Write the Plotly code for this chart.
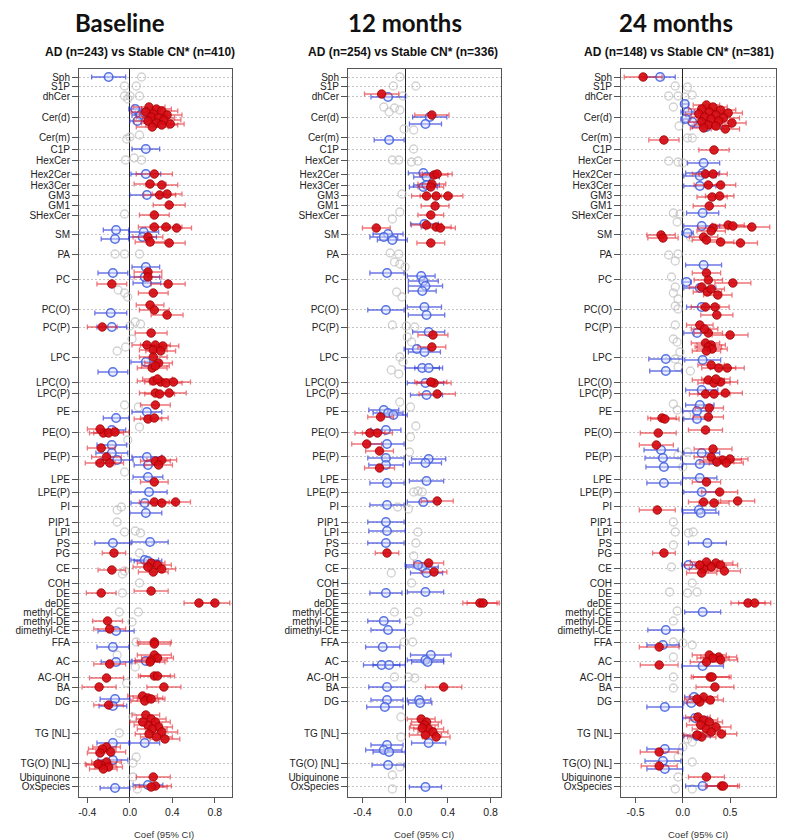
import plotly.graph_objects as go

# Lipid classes and the row at which each class label / guide line sits
CLASSES = ["Sph", "S1P", "dhCer", "Cer(d)", "Cer(m)", "C1P", "HexCer", "Hex2Cer", "Hex3Cer",
           "GM3", "GM1", "SHexCer", "SM", "PA", "PC", "PC(O)", "PC(P)", "LPC", "LPC(O)",
           "LPC(P)", "PE", "PE(O)", "PE(P)", "LPE", "LPE(P)", "PI", "PIP1", "LPI", "PS", "PG",
           "CE", "COH", "DE", "deDE", "methyl-CE", "methyl-DE", "dimethyl-CE", "FFA", "AC",
           "AC-OH", "BA", "DG", "TG [NL]", "TG(O) [NL]", "Ubiquinone", "OxSpecies"]
CLASS_ROW = [0, 9, 19, 40, 60, 72, 83, 97, 108, 118, 128, 138, 157, 177, 202, 232, 250, 280,
             305, 316, 334, 355, 379, 402, 415, 429, 445, 455, 466, 476, 491, 506, 516, 526,
             535, 544, 553, 565, 584, 600, 610, 624, 656, 686, 700, 709]

PANEL_TITLES = ["Baseline", "12 months", "24 months"]
PANEL_SUBTITLES = ["AD (n=243) vs Stable CN* (n=410)",
                   "AD (n=254) vs Stable CN* (n=336)",
                   "AD (n=148) vs Stable CN* (n=381)"]
X_TICKS = [[-0.4, 0.0, 0.4, 0.8], [-0.4, 0.0, 0.4, 0.8], [-0.5, 0.0, 0.5]]
X_TICK_TEXT = [["-0.4", "0.0", "0.4", "0.8"], ["-0.4", "0.0", "0.4", "0.8"], ["-0.5", "0.0", "0.5"]]
X_LABEL = "Coef (95% CI)"

# ---- Baseline: species rows (row, coef, CI half-width) ----
BASE_RED = [
    (30, 0.18, 0.15), (32, 0.25, 0.14), (34, 0.30, 0.15), (35, 0.15, 0.14), (37, 0.22, 0.13),
    (38, 0.35, 0.14), (40, 0.20, 0.14), (41, 0.27, 0.15), (43, 0.32, 0.16), (44, 0.17, 0.13),
    (46, 0.25, 0.14), (48, 0.30, 0.15), (50, 0.21, 0.15), (47, 0.38, 0.13),
    (97, 0.23, 0.17), (107, 0.19, 0.15), (108, 0.30, 0.15), (118, 0.28, 0.15), (117, 0.35, 0.14),
    (128, 0.37, 0.15), (138, 0.23, 0.14),
    (150, 0.23, 0.15), (150, 0.34, 0.15), (151, 0.44, 0.14), (160, 0.17, 0.14), (165, 0.19, 0.14),
    (166, 0.37, 0.15),
    (195, 0.17, 0.13), (200, 0.17, 0.13), (207, -0.17, 0.14), (207, 0.36, 0.16), (216, 0.22, 0.14),
    (228, 0.19, 0.13), (233, 0.23, 0.14), (238, 0.35, 0.15), (250, -0.26, 0.14), (256, 0.20, 0.15),
    (268, 0.16, 0.14), (268, 0.24, 0.14), (269, 0.31, 0.15), (273, 0.22, 0.13), (274, 0.29, 0.14),
    (280, 0.22, 0.13), (286, 0.27, 0.13), (291, 0.21, 0.14), (289, 0.24, 0.13),
    (304, 0.22, 0.15), (305, 0.29, 0.15), (306, 0.34, 0.15), (305, 0.41, 0.16), (302, 0.26, 0.14),
    (316, 0.24, 0.15), (316, 0.37, 0.16), (317, 0.28, 0.14),
    (328, 0.24, 0.14), (342, 0.17, 0.13), (341, 0.23, 0.13),
    (356, -0.25, 0.13), (356, -0.20, 0.14), (355, -0.14, 0.13), (352, -0.28, 0.12),
    (371, -0.27, 0.13), (380, -0.22, 0.14), (386, -0.28, 0.14), (386, -0.19, 0.13),
    (384, 0.24, 0.14), (383, 0.30, 0.14), (388, 0.27, 0.13),
    (405, 0.23, 0.13), (425, 0.23, 0.14), (426, 0.30, 0.13), (425, 0.43, 0.14),
    (476, -0.15, 0.11),
    (493, -0.17, 0.13), (486, 0.20, 0.13), (488, 0.26, 0.13), (492, 0.30, 0.13), (495, 0.22, 0.14),
    (490, 0.17, 0.14),
    (516, -0.27, 0.14), (514, 0.20, 0.16), (526, 0.65, 0.14), (526, 0.80, 0.14),
    (544, -0.21, 0.14), (552, -0.19, 0.15), (565, 0.23, 0.16), (567, 0.23, 0.15),
    (578, 0.23, 0.16), (581, 0.26, 0.15), (583, 0.20, 0.15), (587, -0.19, 0.15), (585, 0.19, 0.14),
    (599, 0.23, 0.15), (599, 0.26, 0.16), (601, -0.22, 0.16), (610, -0.29, 0.16), (610, 0.32, 0.16),
    (619, 0.12, 0.14), (621, 0.17, 0.14), (624, 0.14, 0.13), (622, 0.20, 0.13), (628, -0.20, 0.14),
    (638, 0.15, 0.13), (642, 0.20, 0.14), (645, 0.24, 0.14), (648, 0.17, 0.13), (650, 0.27, 0.13),
    (652, 0.21, 0.14), (655, 0.30, 0.15), (657, 0.18, 0.13), (660, 0.25, 0.15), (662, 0.33, 0.14),
    (645, 0.12, 0.12),
    (670, -0.22, 0.13), (672, -0.26, 0.13), (675, -0.18, 0.14), (676, -0.28, 0.12),
    (685, -0.22, 0.14), (688, -0.27, 0.14), (690, -0.20, 0.13), (692, -0.25, 0.13), (687, -0.30, 0.12),
    (700, 0.22, 0.16), (709, 0.24, 0.15), (710, 0.20, 0.15),
]
BASE_BLUE = [
    (0, -0.20, 0.16), (32, 0.05, 0.06), (38, 0.10, 0.08), (44, 0.07, 0.07), (36, 0.14, 0.09),
    (72, 0.15, 0.13), (97, 0.15, 0.14), (118, 0.16, 0.16),
    (153, -0.13, 0.12), (162, -0.14, 0.13), (155, 0.13, 0.14), (160, 0.12, 0.13),
    (190, 0.15, 0.13), (196, -0.16, 0.14), (206, 0.16, 0.13), (200, 0.14, 0.14),
    (236, -0.18, 0.15), (250, -0.17, 0.14), (285, 0.15, 0.14), (295, -0.16, 0.14),
    (335, 0.16, 0.14), (341, -0.13, 0.12), (353, -0.17, 0.13),
    (368, -0.17, 0.14), (376, -0.17, 0.15), (380, 0.16, 0.14), (388, 0.17, 0.13), (383, -0.12, 0.15),
    (400, 0.17, 0.14), (415, 0.18, 0.17), (426, 0.14, 0.13), (436, 0.15, 0.15),
    (466, -0.16, 0.17), (465, 0.19, 0.17), (483, 0.14, 0.13), (484, 0.17, 0.13),
    (554, -0.13, 0.17), (570, -0.16, 0.15), (585, -0.13, 0.14), (584, 0.15, 0.13),
    (622, -0.14, 0.14), (629, -0.16, 0.13), (666, 0.14, 0.14), (666, -0.16, 0.15),
    (683, -0.16, 0.14), (708, 0.17, 0.14), (711, -0.14, 0.14),
]
BASE_GREY = [
    (0, 0.11), (9, -0.05), (9, 0.06), (19, -0.05), (19, 0.0), (19, 0.09), (22, -0.02), (60, 0.0),
    (58, 0.09), (62, -0.03), (83, -0.04), (83, 0.11), (81, 0.04), (137, -0.05), (177, -0.14),
    (177, -0.05), (177, 0.09), (213, -0.11), (216, -0.05), (220, -0.02), (245, 0.05), (247, 0.10),
    (249, 0.0), (274, -0.12), (270, -0.04), (262, 0.02), (328, -0.05), (330, 0.08), (350, 0.09),
    (363, -0.02), (395, -0.05), (430, -0.08), (433, -0.12), (445, -0.12), (455, -0.05), (454, 0.05),
    (456, 0.10), (476, 0.09), (497, -0.07), (506, 0.09), (516, -0.07), (535, -0.10), (535, 0.08),
    (545, 0.02), (565, 0.06), (578, -0.12), (590, 0.05), (640, 0.03), (656, -0.10), (680, 0.06),
    (686, 0.03), (700, 0.03), (712, 0.07), (606, -0.03), (494, -0.05),
]

# ---- 12 months ----
M12_RED = [
    (17, -0.22, 0.16), (38, 0.25, 0.16), (98, 0.27, 0.13), (97, 0.30, 0.14), (107, 0.25, 0.13),
    (110, 0.24, 0.12), (119, 0.20, 0.14), (119, 0.29, 0.15), (119, 0.40, 0.14), (129, 0.28, 0.13),
    (138, 0.24, 0.12), (148, 0.20, 0.14), (150, 0.29, 0.14), (151, 0.33, 0.14), (151, -0.27, 0.13),
    (166, 0.24, 0.13), (258, 0.26, 0.14), (270, 0.25, 0.13), (306, 0.27, 0.16), (305, 0.24, 0.15),
    (317, 0.30, 0.17), (340, -0.23, 0.12), (356, -0.33, 0.14), (356, -0.26, 0.14),
    (367, -0.36, 0.14), (374, -0.24, 0.13), (391, -0.24, 0.14), (424, 0.30, 0.15),
    (476, -0.17, 0.11), (486, 0.22, 0.14), (495, 0.27, 0.12), (526, 0.70, 0.16), (526, 0.73, 0.15),
    (610, 0.36, 0.17), (642, 0.15, 0.13), (645, 0.20, 0.14), (648, 0.18, 0.13), (652, 0.22, 0.14),
    (655, 0.26, 0.14), (658, 0.19, 0.15), (660, 0.29, 0.13), (651, 0.16, 0.12),
]
M12_BLUE = [
    (20, -0.16, 0.16), (40, 0.23, 0.16), (47, 0.19, 0.15), (63, -0.15, 0.14), (96, 0.17, 0.14),
    (100, 0.20, 0.12), (110, 0.17, 0.13), (108, 0.20, 0.12), (147, 0.18, 0.13), (157, -0.16, 0.14),
    (160, -0.20, 0.13), (163, -0.12, 0.14), (196, -0.17, 0.16), (199, 0.15, 0.13), (204, 0.17, 0.14),
    (209, 0.19, 0.16), (214, 0.16, 0.13), (233, -0.18, 0.17), (230, 0.18, 0.16), (238, 0.20, 0.17),
    (255, 0.22, 0.15), (272, 0.11, 0.12), (275, 0.18, 0.15), (291, 0.16, 0.16), (291, 0.22, 0.13),
    (306, 0.19, 0.17), (318, 0.20, 0.15), (333, -0.20, 0.14), (336, -0.16, 0.14), (338, -0.11, 0.13),
    (353, -0.18, 0.14), (367, -0.17, 0.16), (381, -0.18, 0.17), (388, -0.18, 0.16),
    (382, 0.22, 0.16), (386, 0.19, 0.15), (406, -0.17, 0.16), (404, 0.20, 0.16), (425, 0.17, 0.15),
    (428, -0.17, 0.16), (445, -0.18, 0.17), (454, -0.17, 0.17), (466, -0.18, 0.17),
    (490, 0.16, 0.15), (496, 0.20, 0.15), (488, 0.12, 0.12), (516, -0.18, 0.15), (515, 0.19, 0.17),
    (544, -0.20, 0.15), (553, -0.16, 0.16), (570, -0.21, 0.16), (578, 0.24, 0.19),
    (583, 0.19, 0.17), (585, 0.21, 0.15), (588, -0.22, 0.17), (588, -0.15, 0.15),
    (610, -0.17, 0.17), (623, -0.17, 0.15), (630, -0.19, 0.17), (623, 0.13, 0.11), (626, 0.14, 0.11),
    (666, 0.22, 0.16), (668, -0.17, 0.15), (673, -0.20, 0.17), (675, -0.15, 0.15),
    (688, -0.16, 0.15), (710, 0.19, 0.15),
]
M12_GREY = [
    (0, -0.05), (9, -0.11), (9, 0.10), (19, -0.02), (30, -0.20), (31, -0.10), (33, -0.05),
    (35, -0.15), (52, -0.01), (53, 0.08), (72, 0.08), (83, -0.12), (83, -0.06), (84, 0.12),
    (85, 0.06), (117, -0.03), (135, -0.05), (142, -0.12), (176, -0.14), (177, -0.06), (185, -0.10),
    (187, -0.05), (190, 0.0), (215, -0.08), (220, -0.03), (248, -0.12), (249, 0.01), (250, 0.09),
    (260, 0.02), (265, 0.06), (280, -0.05), (285, -0.02), (293, -0.13), (297, -0.06), (325, -0.05),
    (330, 0.05), (349, 0.10), (360, 0.05), (375, 0.04), (415, 0.08), (414, 0.12), (415, 0.16),
    (430, -0.07), (432, 0.03), (455, 0.12), (466, 0.10), (479, 0.08), (496, -0.13), (535, -0.10),
    (535, 0.12), (565, -0.01), (565, 0.07), (600, -0.10), (600, 0.03), (601, 0.09), (640, -0.04),
    (660, -0.04), (690, -0.05), (698, -0.12), (712, -0.12), (506, 0.06), (544, 0.04),
]

# ---- 24 months ----
M24_RED = [
    (0, -0.42, 0.20),
    (28, 0.25, 0.14), (30, 0.32, 0.15), (32, 0.20, 0.14), (33, 0.40, 0.16), (35, 0.28, 0.15),
    (36, 0.48, 0.15), (37, 0.17, 0.14), (38, 0.35, 0.15), (40, 0.23, 0.14), (41, 0.43, 0.17),
    (42, 0.30, 0.15), (44, 0.38, 0.16), (45, 0.20, 0.14), (46, 0.52, 0.15), (48, 0.27, 0.15),
    (49, 0.35, 0.16), (51, 0.22, 0.14), (52, 0.45, 0.15),
    (63, -0.20, 0.16), (73, 0.33, 0.16), (97, 0.24, 0.14), (97, 0.32, 0.15), (108, 0.27, 0.15),
    (108, 0.40, 0.16), (120, 0.31, 0.16), (119, 0.39, 0.15), (129, 0.28, 0.17),
    (148, 0.48, 0.17), (149, 0.53, 0.18), (150, 0.73, 0.19), (151, 0.32, 0.16), (154, 0.30, 0.15),
    (158, -0.23, 0.15), (161, -0.21, 0.16), (160, 0.22, 0.15), (163, 0.25, 0.15), (165, 0.40, 0.14),
    (166, 0.61, 0.18),
    (196, 0.25, 0.15), (203, 0.27, 0.15), (206, 0.53, 0.19), (210, 0.20, 0.13), (215, 0.26, 0.15),
    (218, 0.37, 0.15), (212, 0.30, 0.14),
    (230, 0.24, 0.15), (230, 0.34, 0.15), (238, 0.36, 0.17),
    (248, 0.18, 0.14), (256, 0.27, 0.15), (258, 0.50, 0.19), (252, 0.23, 0.14),
    (266, 0.24, 0.15), (268, 0.30, 0.15), (270, 0.27, 0.14), (272, 0.31, 0.16), (274, 0.25, 0.15),
    (291, 0.38, 0.18), (291, 0.47, 0.18), (288, 0.30, 0.14),
    (303, 0.27, 0.17), (305, 0.40, 0.18), (306, 0.33, 0.17), (302, 0.35, 0.15),
    (317, 0.24, 0.17), (317, 0.33, 0.17), (316, 0.45, 0.18),
    (331, 0.28, 0.15), (341, -0.22, 0.15), (342, -0.19, 0.15), (340, 0.27, 0.16),
    (356, -0.26, 0.19), (353, 0.24, 0.18),
    (368, -0.28, 0.18), (372, 0.32, 0.20), (380, 0.30, 0.18), (383, 0.42, 0.20), (385, 0.36, 0.18),
    (382, 0.50, 0.19), (386, 0.46, 0.18),
    (405, 0.25, 0.15), (415, 0.39, 0.19), (425, 0.22, 0.16), (426, 0.33, 0.16), (424, 0.58, 0.18),
    (433, -0.27, 0.19), (476, -0.20, 0.12),
    (485, 0.25, 0.17), (486, 0.35, 0.18), (488, 0.40, 0.18), (490, 0.30, 0.16), (492, 0.22, 0.15),
    (494, 0.44, 0.17), (496, 0.20, 0.16), (488, 0.18, 0.16),
    (526, 0.69, 0.18), (526, 0.76, 0.17), (570, -0.25, 0.21),
    (578, 0.28, 0.18), (580, 0.38, 0.19), (581, 0.32, 0.17), (583, 0.40, 0.18), (585, 0.25, 0.17),
    (588, -0.25, 0.20), (600, 0.29, 0.20), (600, 0.31, 0.20), (610, 0.34, 0.20),
    (620, 0.22, 0.15), (623, 0.29, 0.14), (625, 0.18, 0.14), (622, 0.15, 0.13),
    (640, 0.16, 0.13), (643, 0.22, 0.15), (645, 0.28, 0.14), (648, 0.19, 0.15), (650, 0.35, 0.16),
    (652, 0.25, 0.15), (655, 0.30, 0.15), (657, 0.41, 0.16), (660, 0.20, 0.15), (658, 0.15, 0.14),
    (675, -0.25, 0.20), (689, -0.25, 0.19), (700, 0.25, 0.19), (709, 0.41, 0.17), (709, 0.43, 0.17),
]
M24_BLUE = [
    (0, -0.24, 0.16), (27, 0.02, 0.04), (35, 0.05, 0.07), (45, 0.10, 0.09), (50, 0.25, 0.15),
    (42, 0.03, 0.05), (86, 0.22, 0.17), (96, 0.21, 0.18), (99, 0.18, 0.17), (109, 0.18, 0.17),
    (136, 0.21, 0.17), (149, 0.20, 0.19), (156, 0.05, 0.06), (188, 0.22, 0.19), (211, 0.18, 0.17),
    (205, 0.04, 0.05), (230, 0.20, 0.16), (256, 0.15, 0.14), (282, -0.18, 0.18), (283, 0.21, 0.19),
    (294, -0.18, 0.17), (313, 0.20, 0.17), (328, 0.18, 0.15), (334, 0.15, 0.15), (342, 0.15, 0.14),
    (373, -0.23, 0.18), (381, -0.21, 0.19), (390, -0.20, 0.19), (376, 0.20, 0.19), (387, 0.18, 0.18),
    (401, 0.18, 0.18), (406, -0.20, 0.18), (415, 0.20, 0.19), (433, 0.17, 0.18), (436, 0.19, 0.19),
    (466, 0.26, 0.20), (488, 0.06, 0.07), (535, 0.21, 0.19), (553, -0.18, 0.19), (568, -0.21, 0.17),
    (589, 0.21, 0.22), (620, 0.12, 0.10), (626, 0.09, 0.08), (630, -0.19, 0.19), (641, 0.13, 0.13),
    (659, 0.15, 0.14), (672, -0.19, 0.19), (684, -0.21, 0.19), (692, -0.19, 0.19), (709, 0.21, 0.18),
]
M24_GREY = [
    (9, -0.08), (10, 0.05), (19, -0.15), (19, -0.05), (20, 0.02), (18, 0.10), (30, -0.10),
    (49, -0.04), (61, 0.10), (61, 0.05), (84, -0.15), (85, -0.05), (86, 0.0), (136, -0.10),
    (137, -0.03), (145, -0.06), (160, 0.08), (178, -0.15), (177, -0.05), (184, -0.08), (200, -0.12),
    (210, -0.08), (216, -0.10), (222, -0.05), (229, -0.08), (232, -0.05), (248, -0.08), (262, -0.10),
    (265, -0.06), (275, -0.03), (282, -0.08), (290, -0.05), (294, 0.08), (327, -0.10), (333, -0.06),
    (338, 0.04), (378, -0.05), (375, 0.05), (390, 0.0), (445, -0.10), (455, -0.08), (456, 0.06),
    (455, 0.11), (468, -0.10), (490, -0.12), (506, 0.10), (515, -0.14), (516, 0.05), (515, 0.15),
    (534, -0.06), (544, -0.10), (565, -0.10), (566, 0.0), (568, 0.10), (580, -0.10), (600, -0.10),
    (611, -0.10), (662, 0.05), (665, 0.10), (670, 0.0), (680, -0.05), (685, 0.10), (700, -0.05),
    (712, -0.08), (712, 0.10),
]

PANELS = [
    (BASE_GREY, BASE_BLUE, BASE_RED),
    (M12_GREY, M12_BLUE, M12_RED),
    (M24_GREY, M24_BLUE, M24_RED),
]

# ---- layout geometry (page pixels) ----
W, H = 793, 840
PANEL_X_PX = [(79, 232), (348, 501), (621, 776)]
PLOT_TOP_PX, PLOT_BOTTOM_PX = 69, 797
X_RANGES = [(-0.479, 0.961), (-0.535, 0.897), (-0.654, 0.986)]
Y_RANGE = (720, -8)
TITLE_X_PX = [120, 405, 676]
SUB_X_PX = [140, 403, 679]
XLAB_X_PX = [164, 424, 698]

TEXT_FONT = "Liberation Sans, Arial, sans-serif"
RED_FILL = "rgba(214,12,20,0.93)"
RED_EDGE = "rgba(160,0,0,0.8)"
RED_BAR = "rgba(228,30,40,0.62)"
BLUE_EDGE = "rgba(70,100,225,0.9)"
BLUE_FILL = "rgba(215,222,252,0.5)"
BLUE_BAR = "rgba(30,45,215,0.65)"
GREY_EDGE = "rgba(190,190,190,0.7)"

fig = go.Figure()

for i, (grey, blue, red) in enumerate(PANELS):
    sfx = "" if i == 0 else str(i + 1)
    xa, ya = "x" + sfx, "y" + sfx

    fig.add_trace(go.Scatter(
        x=[p[1] for p in grey], y=[p[0] for p in grey], mode="markers",
        xaxis=xa, yaxis=ya, hoverinfo="skip",
        marker=dict(symbol="circle-open", size=8, color=GREY_EDGE, line=dict(width=1.3)),
    ))
    fig.add_trace(go.Scatter(
        x=[p[1] for p in blue], y=[p[0] for p in blue], mode="markers",
        xaxis=xa, yaxis=ya,
        error_x=dict(type="data", array=[p[2] for p in blue], color=BLUE_BAR,
                     thickness=1.3, width=2.5),
        marker=dict(symbol="circle", size=8.5, color=BLUE_FILL,
                    line=dict(color=BLUE_EDGE, width=1.6)),
    ))
    fig.add_trace(go.Scatter(
        x=[p[1] for p in red], y=[p[0] for p in red], mode="markers",
        xaxis=xa, yaxis=ya,
        error_x=dict(type="data", array=[p[2] for p in red], color=RED_BAR,
                     thickness=1.3, width=2.5),
        marker=dict(symbol="circle", size=8.5, color=RED_FILL,
                    line=dict(color=RED_EDGE, width=1)),
    ))

    x0, x1 = PANEL_X_PX[i]
    ydom = [1 - PLOT_BOTTOM_PX / H, 1 - PLOT_TOP_PX / H]
    fig.update_layout({
        "xaxis" + sfx: dict(
            domain=[x0 / W, x1 / W], anchor=ya, range=list(X_RANGES[i]),
            tickvals=X_TICKS[i], ticktext=X_TICK_TEXT[i],
            ticks="outside", ticklen=5, tickcolor="#555", tickwidth=1,
            tickfont=dict(family=TEXT_FONT, size=10.5, color="#222"),
            showgrid=False, showline=True, mirror=True, linecolor="#555", linewidth=1,
            zeroline=True, zerolinecolor="#222", zerolinewidth=1.1,
            fixedrange=True,
        ),
        "yaxis" + sfx: dict(
            domain=ydom, anchor=xa, range=list(Y_RANGE),
            tickvals=CLASS_ROW, ticktext=CLASSES,
            ticks="outside", ticklen=6, tickcolor="#555", tickwidth=1,
            tickfont=dict(family=TEXT_FONT, size=10, color="#222"),
            showgrid=True, gridcolor="#c4c4c4", gridwidth=1, griddash="2px,2px",
            showline=True, mirror=True, linecolor="#555", linewidth=1,
            zeroline=False, fixedrange=True,
        ),
    })

    fig.add_annotation(text="<b>%s</b>" % PANEL_TITLES[i], xref="paper", yref="paper",
                       x=TITLE_X_PX[i] / W, y=1 - 22 / H, showarrow=False,
                       xanchor="center", yanchor="middle",
                       font=dict(family="Lato, Open Sans, sans-serif", size=24, color="#111"))
    fig.add_annotation(text="<b>%s</b>" % PANEL_SUBTITLES[i], xref="paper", yref="paper",
                       x=SUB_X_PX[i] / W, y=1 - 52 / H, showarrow=False,
                       xanchor="center", yanchor="middle",
                       font=dict(family=TEXT_FONT, size=12, color="#111"))
    fig.add_annotation(text=X_LABEL, xref="paper", yref="paper",
                       x=XLAB_X_PX[i] / W, y=1 - 834 / H, showarrow=False,
                       xanchor="center", yanchor="middle",
                       font=dict(family=TEXT_FONT, size=9.5, color="#333"))

fig.update_layout(
    width=W, height=H, margin=dict(l=0, r=0, t=0, b=0),
    paper_bgcolor="white", plot_bgcolor="white", showlegend=False,
)

fig.write_html("out.html")
